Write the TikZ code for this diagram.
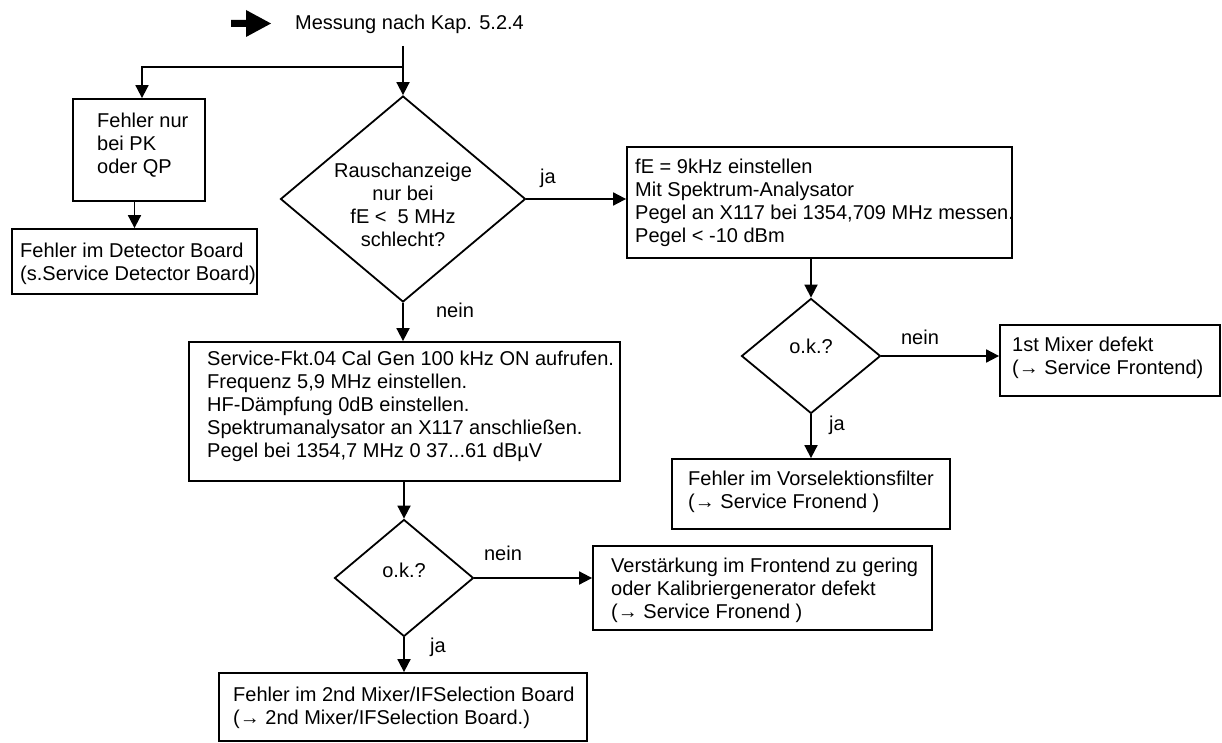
\documentclass[tikz,border=0pt]{standalone}
\usepackage{fontspec}
\setmainfont{Liberation Sans}
\usetikzlibrary{arrows.meta,shapes.geometric,calc}
\begin{document}
\begin{tikzpicture}[x=1pt,y=-1pt,
  every node/.style={font=\fontsize{20}{23}\selectfont},
  box/.style={draw, line width=1.8pt, rectangle, inner sep=0pt},
  dia/.style={draw, line width=1.8pt, diamond, inner sep=0pt},
  txt/.style={inner sep=0pt, align=left, anchor=west},
  ctxt/.style={inner sep=0pt, align=center},
  lbl/.style={inner sep=0pt},
  conn/.style={line width=1.8pt, -{Triangle[length=13pt,width=13pt]}}]
\useasboundingbox (0,0) rectangle (1222,743);

% start marker
\fill (231,20) -- (246,20) -- (246,10) -- (271,23.5) -- (246,37) -- (246,27) -- (231,27) -- cycle;
\node[lbl, anchor=base west] (title) at (295,30) {Messung nach Kap. 5.2.4};

% boxes
\node[box, minimum width=132pt, minimum height=102pt] (b1) at (139,150) {};
\node[txt] (t1) at (97,145) {Fehler nur\\bei PK\\oder QP};

\node[box, minimum width=245pt, minimum height=65pt] (b2) at (134.5,261.5) {};
\node[txt] (t2) at (20,264) {Fehler im Detector Board\\(s.Service Detector Board)};

\node[dia, minimum width=245pt, minimum height=206pt] (d1) at (403,199) {};
\node[ctxt] (td1) at (403,205) {Rauschanzeige\\nur bei\\fE <\ \ 5 MHz\\schlecht?};

\node[box, minimum width=385pt, minimum height=111pt] (b3) at (819.5,202.5) {};
\node[txt] (t3) at (635,203) {fE = 9kHz einstellen\\Mit Spektrum-Analysator\\Pegel an X117 bei 1354,709 MHz messen.\\Pegel < -10 dBm};

\node[dia, minimum width=139pt, minimum height=115pt] (d2) at (811,356) {};
\node[ctxt] (td2) at (811,346) {o.k.?};

\node[box, minimum width=220pt, minimum height=71pt] (b5) at (1110,360.5) {};
\node[txt] (t5) at (1012,358) {1st Mixer defekt\\(→ Service Frontend)};

\node[box, minimum width=278pt, minimum height=70pt] (b6) at (811,494) {};
\node[txt] (t6) at (688,492) {Fehler im Vorselektionsfilter\\(→ Service Fronend )};

\node[box, minimum width=431pt, minimum height=139pt] (b4) at (404.5,411.5) {};
\node[txt] (t4) at (207,406) {Service-Fkt.04 Cal Gen 100 kHz ON aufrufen.\\Frequenz 5,9 MHz einstellen.\\HF-Dämpfung 0dB einstellen.\\Spektrumanalysator an X117 anschließen.\\Pegel bei 1354,7 MHz 0 37...61 dBµV};

\node[dia, minimum width=139pt, minimum height=117pt] (d3) at (404,578) {};
\node[ctxt] (td3) at (404,570) {o.k.?};

\node[box, minimum width=339pt, minimum height=84pt] (b7) at (762.5,588) {};
\node[txt] (t7) at (611,590) {Verstärkung im Frontend zu gering\\oder Kalibriergenerator defekt\\(→ Service Fronend )};

\node[box, minimum width=368pt, minimum height=68pt] (b8) at (403,707) {};
\node[txt] (t8) at (233,708) {Fehler im 2nd Mixer/IFSelection Board\\(→ 2nd Mixer/IFSelection Board.)};

% labels
\node[lbl] (l1) at (548,178) {ja};
\node[lbl] (l2) at (455,310) {nein};
\node[lbl] (l3) at (920,337) {nein};
\node[lbl] (l4) at (837,425) {ja};
\node[lbl] (l5) at (503,553) {nein};
\node[lbl] (l6) at (438,647) {ja};

% connectors
\coordinate (s0) at (403,46);
\coordinate (split) at (403,67);
\draw[conn] (s0) -- (d1.north);
\draw[conn] (split) -| ([xshift=3pt]b1.north);
\draw[conn] (b2.north |- b1.south) -- (b2.north);
\draw[conn] (d1.east) -- (d1.east -| b3.west);
\draw[conn] (d1.south) -- (d1.south |- b4.north);
\draw[conn] (d2.north |- b3.south) -- (d2.north);
\draw[conn] (d2.east) -- (d2.east -| b5.west);
\draw[conn] (d2.south) -- (b6.north);
\draw[conn] (d3.north |- b4.south) -- (d3.north);
\draw[conn] (d3.east) -- (d3.east -| b7.west);
\draw[conn] (d3.south) -- (d3.south |- b8.north);
\end{tikzpicture}
\end{document}
